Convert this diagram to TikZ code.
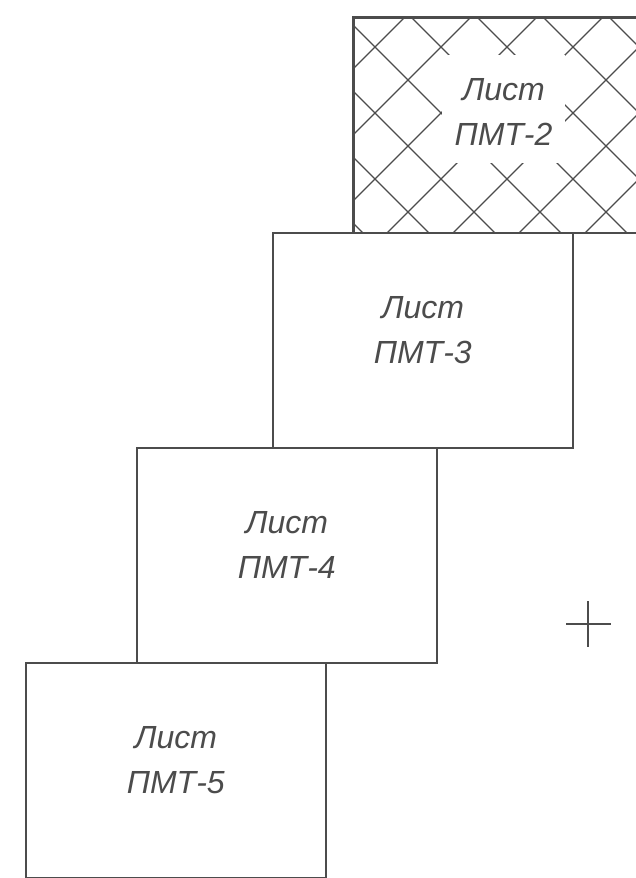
\documentclass[tikz,border=0pt]{standalone}
\usepackage{fontspec}
\setmainfont{Liberation Sans}
\usetikzlibrary{positioning, calc}

\begin{document}
\begin{tikzpicture}[
    x=1pt, y=-1pt,
    sheet/.style={draw=black!70, line width=1.6pt, fill=white, rectangle, minimum width=300pt, minimum height=215pt, inner sep=0pt, anchor=north west},
    sheettext/.style={text=black!70, align=center, font=\fontsize{32}{45}\selectfont\itshape},
    hatchline/.style={draw=black!70, line width=1.1pt}
]
\useasboundingbox (0,0) rectangle (635,878);

% --- 1. SHEETS ---
\node [sheet] (sheet2) at (353,17) {};
\node [sheet] (sheet3) at (272,232) {};
\node [sheet] (sheet4) at (136,447) {};
\node [sheet] (sheet5) at (25,662) {};

% --- 2. HATCH ON SHEET 2 ---
\begin{scope}
    \clip (sheet2.north west) rectangle (sheet2.south east);
    \foreach \k in {-8,...,8} {
        \draw[hatchline] (328+66*\k,0) -- (328+66*\k+300,300); % down-right
        \draw[hatchline] (422+66*\k,0) -- (422+66*\k-300,300); % down-left
    }
\end{scope}
\draw[draw=black!70, line width=1.6pt] (sheet2.north east) -- (sheet2.north west) -- (sheet2.south west) -- (sheet2.south east);
\node [fill=white, minimum width=123pt, minimum height=108pt] (clear2) at (503.5,109) {};

% --- 3. LABELS ---
\node [sheettext] (label2) at ([yshift=-3pt]clear2.center) {Лист\\ПМТ-2};
\node [sheettext] (label3) at ([yshift=10pt]sheet3.center) {Лист\\ПМТ-3};
\node [sheettext] (label4) at ([yshift=10pt]sheet4.center) {Лист\\ПМТ-4};
\node [sheettext] (label5) at ([yshift=10pt]sheet5.center) {Лист\\ПМТ-5};

% --- 4. CENTRE MARK ---
\coordinate (mark) at (588,624);
\draw[draw=black!70, line width=1.1pt] ([xshift=-22pt]mark) -- ([xshift=23pt]mark);
\draw[draw=black!70, line width=1.1pt] ([yshift=23pt]mark) -- ([yshift=-23pt]mark);

\end{tikzpicture}
\end{document}
